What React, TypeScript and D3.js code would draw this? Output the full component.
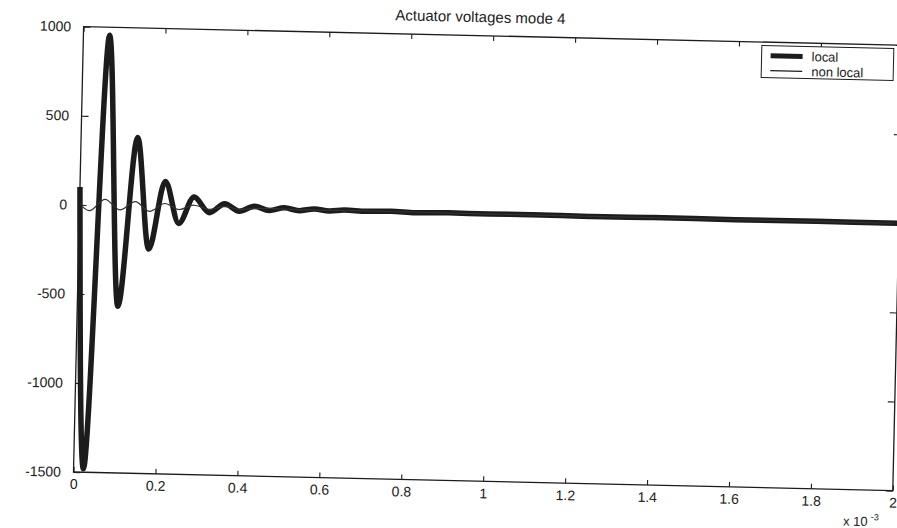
import React, { useEffect, useRef } from 'react';
import * as d3 from 'd3';

// time in units of 1e-3 s, voltages in V
const localTime = [
  0, 0.024, 0.064, 0.099, 0.138, 0.171, 0.208, 0.243, 0.279, 0.317, 0.354, 0.39, 0.427, 0.463,
  0.5, 0.536, 0.573, 0.61, 0.647, 0.7, 0.76, 0.82, 0.9, 1.0, 1.1, 1.25, 1.4, 1.6, 1.8, 2.0,
];
const localVolts = [
  100, -1480, 955, -565, 385, -240, 142, -92, 58, -28, 24, -16, 14, -8,
  9, -5, 6, -3, 4, 0, 3, -2, 2, 0, 2, -1, 1, 0, 1, 0,
];

const nonLocalTime = [
  0, 0.024, 0.062, 0.099, 0.136, 0.171, 0.208, 0.243, 0.279, 0.317, 0.354, 0.39, 0.45, 0.55,
  0.7, 1.0, 1.5, 2.0,
];
const nonLocalVolts = [5, -32, 34, -24, 25, -28, 18, -14, 12, -9, 8, -5, 3, 0, 2, 0, 1, 0];

const xTicks = [0, 0.2, 0.4, 0.6, 0.8, 1, 1.2, 1.4, 1.6, 1.8, 2];
const yTicks = [-1500, -1000, -500, 0, 500, 1000];

const legendLabels = ['local', 'non local'];

const width = 897;
const height = 528;
const font = 'Liberation Sans, Arial, Helvetica, sans-serif';
const ink = '#1c1c1c';

const App: React.FC = () => {
  const chartRef = useRef<SVGSVGElement | null>(null);

  useEffect(() => {
    const svg = d3.select(chartRef.current);
    svg.selectAll('*').remove();

    const x = d3.scaleLinear().domain([0, 2]).range([73.5, 893]);
    const y = d3.scaleLinear().domain([-1500, 1000]).range([472, 26.5]);

    // the scanned page is slightly tilted
    const g = svg
      .append('g')
      .attr('transform', `rotate(1.3, ${x(0)}, ${y(-1500)})`)
      .attr('font-family', font)
      .attr('fill', ink);

    g.append('text')
      .attr('x', 470)
      .attr('y', 13)
      .attr('text-anchor', 'middle')
      .attr('font-size', 15)
      .text('Actuator voltages mode 4');

    const line = d3
      .line<number>()
      .x((_, i) => x(localTime[i]))
      .y((d) => y(d))
      .curve(d3.curveMonotoneX);

    const line2 = d3
      .line<number>()
      .x((_, i) => x(nonLocalTime[i]))
      .y((d) => y(d))
      .curve(d3.curveMonotoneX);

    g.append('path')
      .attr('d', line(localVolts))
      .attr('fill', 'none')
      .attr('stroke', ink)
      .attr('stroke-width', 5.5)
      .attr('stroke-linejoin', 'round');

    g.append('path')
      .attr('d', line2(nonLocalVolts))
      .attr('fill', 'none')
      .attr('stroke', '#333')
      .attr('stroke-width', 1.2);

    const fmt = (d: d3.NumberValue) => String(+(+d).toFixed(1));

    const styleAxis = (sel: d3.Selection<SVGGElement, unknown, null, undefined>) => {
      sel.select('.domain').remove();
      sel.selectAll('line').attr('stroke', ink).attr('stroke-width', 1.1);
      sel.selectAll('text').attr('fill', ink).attr('font-size', 14).attr('font-family', font);
    };

    g.append('g')
      .attr('transform', `translate(0,${y(-1500)})`)
      .call(d3.axisBottom(x).tickValues(xTicks).tickSize(-5).tickPadding(7).tickFormat(fmt))
      .call(styleAxis);

    g.append('g')
      .attr('transform', `translate(0,${y(1000)})`)
      .call(d3.axisTop(x).tickValues(xTicks).tickSize(-5).tickFormat(() => ''))
      .call(styleAxis);

    g.append('g')
      .attr('transform', `translate(${x(0)},0)`)
      .call(d3.axisLeft(y).tickValues(yTicks).tickSize(-7).tickPadding(12.5).tickFormat(fmt))
      .call(styleAxis);

    g.append('g')
      .attr('transform', `translate(${x(2)},0)`)
      .call(d3.axisRight(y).tickValues(yTicks).tickSize(-7).tickFormat(() => ''))
      .call(styleAxis);

    g.append('rect')
      .attr('x', x(0))
      .attr('y', y(1000))
      .attr('width', x(2) - x(0))
      .attr('height', y(-1500) - y(1000))
      .attr('fill', 'none')
      .attr('stroke', ink)
      .attr('stroke-width', 1.3);

    const mult = g.append('text').attr('x', 844).attr('y', 508).attr('font-size', 13);
    mult.append('tspan').text('x 10');
    mult.append('tspan').attr('dx', 3).attr('dy', -6).attr('font-size', 9).text('-3');

    // legend
    const lg = g.append('g').attr('transform', 'translate(752,30)');
    lg.append('rect')
      .attr('width', 132)
      .attr('height', 32)
      .attr('fill', '#fff')
      .attr('stroke', ink)
      .attr('stroke-width', 1);
    legendLabels.forEach((label, i) => {
      const ly = 10 + i * 15;
      lg.append('line')
        .attr('x1', 9)
        .attr('x2', 41)
        .attr('y1', ly)
        .attr('y2', ly)
        .attr('stroke', ink)
        .attr('stroke-width', i === 0 ? 5 : 1.2);
      lg.append('text')
        .attr('x', 50)
        .attr('y', ly)
        .attr('dy', '0.35em')
        .attr('font-size', 13)
        .text(label);
    });
  }, []);

  return (
    <svg
      ref={chartRef}
      width={width}
      height={height}
      style={{ position: 'absolute', left: 0, top: 0, background: '#fff' }}
    />
  );
};

export default App;
